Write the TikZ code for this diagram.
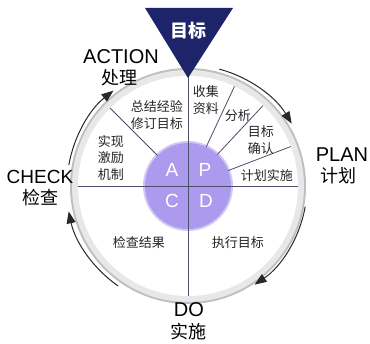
\documentclass[tikz,border=0pt]{standalone}
\usepackage{fontspec}
\setmainfont{Liberation Sans}
\newfontfamily\cjk{Noto Sans CJK SC}
\usetikzlibrary{arrows.meta}

\definecolor{navy}{RGB}{30,36,105}
\definecolor{lavender}{RGB}{172,154,238}
\definecolor{spokecol}{RGB}{75,80,105}
\definecolor{arrowcol}{RGB}{40,40,40}

\begin{document}
\begin{tikzpicture}[x=1pt,y=1pt,
  stage/.style={font=\fontsize{20}{22}\selectfont, inner sep=0pt},
  stagecn/.style={font=\cjk\fontsize{18}{20}\selectfont, inner sep=0pt},
  task/.style={font=\cjk\fontsize{13}{16.5}\selectfont, align=center, text=black!85, inner sep=0pt},
  letter/.style={font=\fontsize{19}{20}\selectfont, text=white, inner sep=0pt},
  spoke/.style={draw=spokecol, line width=0.8pt},
  turn/.style={draw=arrowcol, line width=1pt, -{Triangle[length=12pt,width=9pt]}}]
  \useasboundingbox (-188,-158) rectangle (182,186);

  % wheel
  \fill[gray!50] (0,0) circle (118);
  \fill[gray!18] (0,0) circle (116);
  \fill[white] (0,0) circle (110);
  \fill[lavender!55] (0,0) circle (45);
  \fill[lavender] (0,0) circle (43);
  \draw[spoke] (-110,0) -- (110,0);
  \draw[spoke] (0,110) -- (0,-110);
  \foreach \a in {65,47,21,135}
    \draw[spoke] (\a:43) -- (\a:110);

  % target
  \fill[navy] (-43,178) -- (45,178) -- (0,108) -- cycle;
  \node[font=\cjk\bfseries\fontsize{18}{20}\selectfont, text=white] (goal) at (1,155) {目标};

  % cycle arrows
  \draw[turn] (75:121) arc[start angle=75, end angle=31, radius=121];
  \draw[turn] (-10:119) arc[start angle=-10, end angle=-56, radius=119];
  \draw[turn] (-125:122) arc[start angle=-125, end angle=-168, radius=122];
  \draw[turn] (170:121) arc[start angle=170, end angle=128, radius=121];

  % stages
  \node[stage] (action) at (-67,129) {ACTION};
  \node[stagecn] (actioncn) at (-68,108) {处理};
  \node[stage] (plan) at (154,31) {PLAN};
  \node[stagecn] (plancn) at (150,10) {计划};
  \node[stage, font=\fontsize{19}{21}\selectfont] (check) at (-148,9) {CHECK};
  \node[stagecn] (checkcn) at (-147,-12) {检查};
  \node[stage] (do) at (1,-124) {DO};
  \node[stagecn] (docn) at (1,-146) {实施};

  % tasks
  \node[task] (collect) at (18,86) {收集\\资料};
  \node[task] (analyse) at (50,70) {分析};
  \node[task] (confirm) at (73,46) {目标\\确认};
  \node[task] (carry) at (79,10) {计划实施};
  \node[task] (review) at (-31,71) {总结经验\\修订目标};
  \node[task] (reward) at (-77,28) {实现\\激励\\机制};
  \node[task] (result) at (-49,-57) {检查结果};
  \node[task] (execute) at (50,-57) {执行目标};

  % quarters
  \node[letter] (qa) at (-16,16) {A};
  \node[letter] (qp) at (17,16) {P};
  \node[letter] (qc) at (-16,-15) {C};
  \node[letter] (qd) at (18,-15) {D};
\end{tikzpicture}
\end{document}
